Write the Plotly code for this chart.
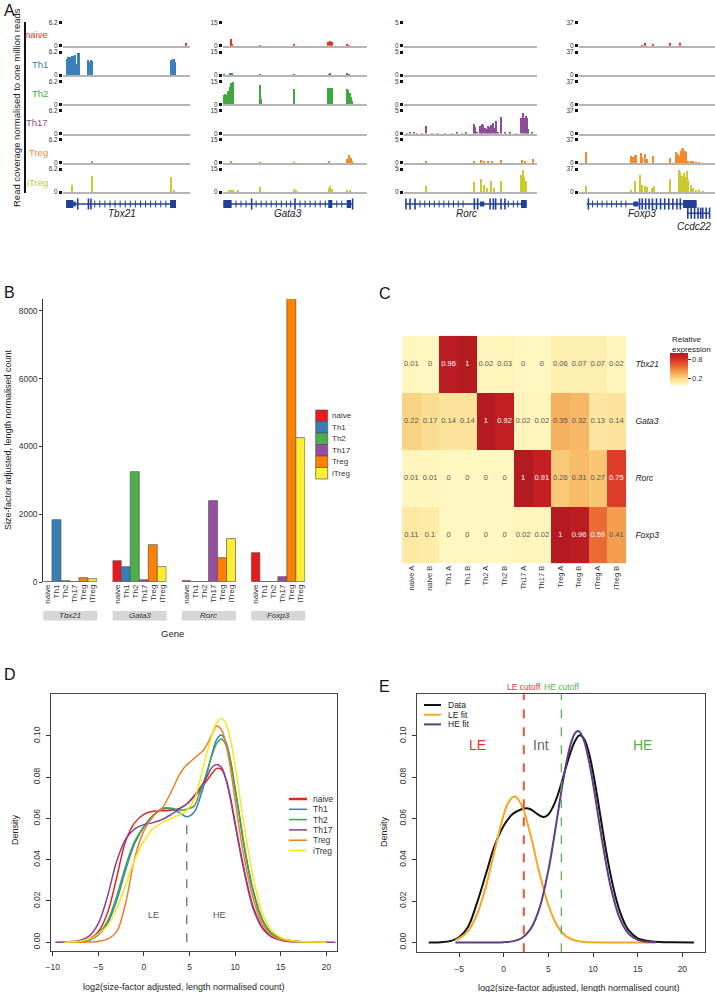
# -*- coding: utf-8 -*-
import plotly.graph_objects as go

W, H = 715, 992
FONT = "Liberation Sans, Arial, sans-serif"

cell_types = ["naive", "Th1", "Th2", "Th17", "Treg", "iTreg"]
genes = ["Tbx21", "Gata3", "Rorc", "Foxp3"]

# ---------------- panel A: coverage tracks ----------------
track_colors = ["#E5332A", "#3A80BC", "#3EA83E", "#8E4B9A", "#F08A2A", "#CACA2E"]
track_max = [6.2, 15, 5, 37]

# (position along locus 0-100, coverage per million reads)
cov_tbx21 = {
    "naive": [(96.6, 0.8)],
    "Th1": [(3.2, 4.3), (4.4, 4.8), (5.6, 4.9), (6.8, 5.0), (8.0, 5.2), (9.2, 5.3),
            (10.4, 3.0), (11.6, 5.9), (12.8, 5.8), (19.5, 4.0), (20.7, 3.6), (22.0, 4.1),
            (23.2, 3.9), (85.2, 4.1), (86.4, 4.3), (87.6, 4.2), (88.6, 3.6)],
    "Th2": [],
    "Th17": [],
    "Treg": [(23.2, 0.3)],
    "iTreg": [(7.3, 2.0), (23.2, 4.2), (85.2, 4.0), (87.6, 0.6)],
}
cov_gata3 = {
    "naive": [(5.6, 4.8), (6.6, 1.5), (25.7, 0.5), (49.8, 1.5), (73.1, 2.3), (74.3, 3.0),
              (75.5, 2.6), (86.3, 0.8), (87.7, 0.6)],
    "Th1": [(1.0, 0.3), (5.0, 0.8), (6.2, 0.9), (25.7, 0.3), (49.8, 0.5), (73.5, 0.6),
            (74.8, 0.8), (86.3, 0.7), (87.5, 0.6)],
    "Th2": [(0.8, 6.0), (1.8, 6.4), (2.8, 6.0), (3.8, 8.5), (4.8, 11.0), (5.8, 13.5),
            (6.8, 14.6), (25.7, 12.3), (26.6, 3.0), (49.8, 10.1), (73.1, 10.4), (74.1, 10.5),
            (75.1, 10.5), (76.0, 10.3), (86.0, 9.6), (87.0, 9.0), (88.0, 7.5), (89.0, 4.5),
            (90.0, 2.0)],
    "Th17": [],
    "Treg": [(5.6, 1.0), (25.7, 0.3), (49.8, 0.3), (74.0, 1.5), (86.0, 2.5), (87.5, 5.5),
             (88.8, 3.0), (90.0, 1.0)],
    "iTreg": [(4.5, 1.5), (5.6, 1.2), (7.0, 1.0), (10.6, 1.3), (25.7, 3.2), (49.8, 1.8),
              (50.8, 1.0), (73.5, 2.5), (74.5, 4.2), (75.5, 2.0), (86.5, 0.8), (88.0, 0.8)],
}
cov_rorc = {
    "naive": [],
    "Th1": [],
    "Th2": [],
    "Th17": [(2, 0.2), (5, 0.25), (8, 0.3), (10, 0.2), (14, 0.15), (17, 1.7), (21, 0.2),
             (26, 0.15), (31, 0.2), (36, 0.15), (40, 0.25), (44, 0.2), (47, 0.3), (52.6, 2.2),
             (53.8, 1.5), (54.8, 0.5), (57.5, 1.8), (58.6, 2.2), (59.7, 2.0), (61, 1.2),
             (62.5, 1.0), (63.6, 1.7), (64.7, 1.5), (65.8, 2.0), (67, 2.4), (68.2, 1.3),
             (69.5, 2.9), (71, 0.5), (73.4, 3.6), (76, 0.3), (80, 0.3), (84, 0.2), (88.2, 3.4),
             (89.3, 4.6), (90.4, 3.5), (91.5, 4.0), (92.6, 3.4), (93.7, 1.0), (96, 0.3)],
    "Treg": [(17, 0.4), (53, 0.4), (58, 0.6), (60, 0.5), (63, 0.4), (66, 0.4), (73.4, 0.6),
             (88.5, 0.6), (91, 0.3), (97, 0.9)],
    "iTreg": [(17, 1.2), (52.6, 2.1), (58, 2.8), (60, 1.6), (62.8, 0.9), (65.3, 2.5),
              (67.8, 0.9), (73.4, 2.3), (88.3, 3.6), (89.5, 4.7), (90.6, 3.3), (91.8, 2.4)],
}
cov_foxp3 = {
    "naive": [(46.6, 0.6), (48.5, 4.8), (54.6, 3.6), (67, 5.3), (74.3, 4.5)],
    "Th1": [],
    "Th2": [],
    "Th17": [],
    "Treg": [(5.6, 18), (38, 12), (39.5, 9), (41, 12.5), (42.4, 13.5), (45.4, 15.3), (46.6, 10),
             (48.5, 15), (49.8, 7), (54.6, 11), (67, 8), (71.1, 17), (72.8, 14), (73.8, 12),
             (74.8, 19.5), (75.8, 23), (76.8, 24.5), (77.8, 20), (78.8, 18.5), (80, 4),
             (82.8, 2), (84.3, 2), (86, 1.5), (88, 1)],
    "iTreg": [(5.6, 9), (38, 3.5), (41, 17), (44.9, 26.7), (46.6, 12), (48.5, 9), (49.8, 8),
              (54, 7), (55.2, 9.5), (67, 21), (73.5, 35), (74.5, 32), (75.5, 25), (76.5, 22),
              (77.6, 30), (78.6, 24), (79.6, 34), (80.6, 20), (82.5, 11), (84, 6), (86.5, 4),
              (88.5, 2), (91, 1)],
}
coverage = {"Tbx21": cov_tbx21, "Gata3": cov_gata3, "Rorc": cov_rorc, "Foxp3": cov_foxp3}

# gene models: span, coding blocks, thin exons, intron chevrons
gene_models = {
    "Tbx21": dict(span=(2.4, 89.0), blocks=[(2.4, 8.1), (84.3, 89.0)], utr=[(8.1, 10.0)],
                  marks=[11.6, 20.0, 22.0],
                  chevrons=[25, 29, 33, 37, 41, 45, 49, 53, 57, 61, 65, 69, 73, 77, 81]),
    "Gata3": dict(span=(0.2, 90.0), blocks=[(0.2, 6.0), (73.1, 75.9), (85.9, 88.9)], utr=[],
                  marks=[19.9, 50.0, 90.0],
                  chevrons=[9, 12.5, 16, 23, 26.5, 30, 33.5, 37, 40.5, 44, 47, 53.5, 57, 60.5,
                            64, 67.5, 71, 79, 82.5]),
    "Rorc": dict(span=(0.75, 92.3), blocks=[(88.0, 92.3)], utr=[(57.1, 60.4)],
                 marks=[1.5, 4.5, 8.3, 52.9, 55.4, 64.7, 67.2, 68.9, 72.9, 75.9],
                 chevrons=[12, 15.6, 19.2, 22.8, 26.4, 30, 33.6, 37.2, 40.8, 44.4, 78.4, 82.2,
                           85.5]),
    "Foxp3": dict(span=(5.6, 86.5), blocks=[(76.5, 86.5)], utr=[(40.0, 43.5)],
                  marks=[6.9, 44.5, 46.5, 49, 51.5, 54, 57, 60, 63, 66, 69, 72, 74.5],
                  chevrons=[10, 13.5, 17, 20.5, 24, 27.5, 31, 34.5]),
}
ccdc22_model = dict(span=(79.2, 96.3), marks=[80, 82.5, 85, 87.5, 89.5, 91, 93.5, 96.0])

# ---------------- panel B: bar chart ----------------
bar_tbx21 = [10, 1830, 30, 10, 118, 80]
bar_gata3 = [630, 452, 3238, 60, 1100, 434]
bar_rorc = [20, 5, 5, 2382, 699, 1260]
bar_foxp3 = [856, 5, 10, 138, 8345, 4251]
bar_values = [bar_tbx21, bar_gata3, bar_rorc, bar_foxp3]
bar_colors = ["#E41A1C", "#377EB8", "#4DAF4A", "#984EA3", "#FF7F00", "#FFED33"]

# ---------------- panel C: heatmap ----------------
heat_cols = ["naive A", "naive B", "Th1 A", "Th1 B", "Th2 A", "Th2 B", "Th17 A", "Th17 B",
             "Treg A", "Treg B", "iTreg A", "iTreg B"]
heat_rows = ["Tbx21", "Gata3", "Rorc", "Foxp3"]
heat_vals = [
    [0.01, 0, 0.96, 1, 0.02, 0.03, 0, 0, 0.06, 0.07, 0.07, 0.02],
    [0.22, 0.17, 0.14, 0.14, 1, 0.92, 0.02, 0.02, 0.35, 0.32, 0.13, 0.14],
    [0.01, 0.01, 0, 0, 0, 0, 1, 0.91, 0.26, 0.31, 0.27, 0.75],
    [0.11, 0.1, 0, 0, 0, 0, 0.02, 0.02, 1, 0.96, 0.59, 0.41],
]

# ---------------- panel D: densities per cell type ----------------
d_x = [-9.7, -8.7, -8, -7, -6, -5, -4, -3, -2, -1, 0, 1, 2, 3, 4, 4.7, 5.5, 6, 6.5, 7, 7.5,
       8, 8.5, 9, 9.5, 10, 10.5, 11, 11.5, 12, 13, 14, 15, 16, 17, 18, 20, 21]
d_naive = [None, 0, 0.0001, 0.0003, 0.0015, 0.005, 0.014, 0.031, 0.049, 0.058, 0.062, 0.0635,
           0.0637, 0.064, 0.065, 0.067, 0.0705, 0.073, 0.076, 0.079, 0.082, 0.0843, 0.0838,
           0.079, 0.070, 0.058, 0.046, 0.035, 0.025, 0.017, 0.0072, 0.0028, 0.0011, 0.0004,
           0.0002, 0.0001, 0, None]
d_th1 = [None, 0, 0.0001, 0.0002, 0.001, 0.0035, 0.009, 0.020, 0.035, 0.048, 0.056, 0.0615,
         0.0645, 0.0645, 0.0625, 0.0608, 0.063, 0.068, 0.075, 0.083, 0.092, 0.0985, 0.1005,
         0.097, 0.088, 0.075, 0.061, 0.047, 0.035, 0.025, 0.011, 0.0045, 0.0018, 0.0008,
         0.0003, 0.0001, 0, None]
d_th2 = [None, 0, 0.0001, 0.0002, 0.001, 0.004, 0.010, 0.022, 0.037, 0.049, 0.056, 0.061,
         0.065, 0.065, 0.064, 0.0645, 0.066, 0.071, 0.077, 0.084, 0.091, 0.0965, 0.0985,
         0.0955, 0.087, 0.074, 0.060, 0.046, 0.034, 0.024, 0.0105, 0.0043, 0.0018, 0.0008,
         0.0003, 0.0001, 0, None]
d_th17 = [0, 0.0001, 0.0003, 0.001, 0.003, 0.009, 0.022, 0.039, 0.050, 0.055, 0.057, 0.058,
          0.0595, 0.062, 0.065, 0.067, 0.071, 0.074, 0.077, 0.081, 0.085, 0.0862, 0.0848,
          0.079, 0.069, 0.057, 0.045, 0.034, 0.024, 0.016, 0.0066, 0.0025, 0.001, 0.0004,
          0.0002, 0.0001, 0, 0]
d_treg = [None, 0, 0, 0, 0.0001, 0.0005, 0.0015, 0.005, 0.019, 0.041, 0.054, 0.061, 0.065,
          0.073, 0.082, 0.086, 0.089, 0.091, 0.093, 0.0965, 0.101, 0.1048, 0.103, 0.096,
          0.084, 0.069, 0.054, 0.041, 0.030, 0.021, 0.0088, 0.0034, 0.0013, 0.0005, 0.0002,
          0.0001, 0, None]
d_itreg = [None, 0, 0.0002, 0.0005, 0.0015, 0.004, 0.008, 0.016, 0.028, 0.040, 0.049, 0.055,
           0.058, 0.060, 0.062, 0.064, 0.069, 0.076, 0.085, 0.093, 0.101, 0.1065, 0.1086,
           0.106, 0.098, 0.086, 0.071, 0.056, 0.043, 0.031, 0.014, 0.0058, 0.0023, 0.0009,
           0.0004, 0.0002, 0, None]
d_curves = [d_naive, d_th1, d_th2, d_th17, d_treg, d_itreg]
d_colors = ["#E3261F", "#3580BB", "#3FA54A", "#8B3F95", "#F07E22", "#FFE414"]
d_cutoff = 4.7

# ---------------- panel E: mixture fit ----------------
e_data_x = [-8.4, -7, -6, -5, -4, -3, -2, -1, 0, 1, 2, 2.5, 3, 4, 4.5, 5, 5.5, 6, 6.5, 7,
            7.5, 8, 8.5, 9, 9.5, 10, 10.5, 11, 11.5, 12, 12.5, 13, 13.5, 14, 15, 16, 17, 18,
            19, 21.3]
e_data_y = [0, 0.0001, 0.0006, 0.0025, 0.0075, 0.019, 0.033, 0.047, 0.0565, 0.0622, 0.0645,
            0.065, 0.0645, 0.0615, 0.0607, 0.062, 0.0655, 0.0708, 0.0777, 0.0853, 0.0923,
            0.0977, 0.1003, 0.0985, 0.0925, 0.0825, 0.070, 0.0565, 0.0435, 0.032, 0.0225,
            0.015, 0.0095, 0.0058, 0.002, 0.0008, 0.0003, 0.0001, 0.00005, 0]
e_le_x = [-5.4, -5, -4, -3, -2, -1, 0, 0.5, 1.2, 2, 3, 4, 5, 6, 7, 8, 9, 10, 12, 17]
e_le_y = [0.0012, 0.0019, 0.0055, 0.0134, 0.0269, 0.0448, 0.0618, 0.0676, 0.0708, 0.0666,
          0.0521, 0.0337, 0.0181, 0.0080, 0.0029, 0.0009, 0.0002, 0.00005, 0, 0]
e_he_x = [-5.4, 0, 1, 2, 3, 4, 5, 5.5, 6, 6.5, 7, 7.5, 8, 8.3, 8.5, 9, 9.5, 10, 10.5, 11, 12,
          13, 14, 15, 16, 17]
e_he_y = [0, 0.0001, 0.0005, 0.0020, 0.0064, 0.0165, 0.0349, 0.0472, 0.0607, 0.0744, 0.0867,
          0.0961, 0.1015, 0.1024, 0.1020, 0.0976, 0.0888, 0.0770, 0.0635, 0.0498, 0.0265,
          0.0115, 0.0041, 0.0012, 0.0003, 0.0001]
le_cutoff, he_cutoff = 2.25, 6.45


# ---------------- helpers ----------------
layout = {}
count = {"x": 0, "y": 0}
shapes = []
annotations = []
BLANK = dict(showgrid=False, zeroline=False, showline=False, ticks="", showticklabels=False)


def axis(kind, **opts):
    count[kind] += 1
    n = count[kind]
    suffix = "" if n == 1 else str(n)
    opts.setdefault("automargin", False)
    layout[f"{kind}axis{suffix}"] = opts
    return f"{kind}{suffix}"


def link(xa, ya):
    layout["xaxis" + xa[1:]]["anchor"] = ya
    layout["yaxis" + ya[1:]]["anchor"] = xa


def dx(a, b):
    return [a / W, b / W]


def dy(top, bottom):
    return [1 - bottom / H, 1 - top / H]


def text(t, x, y, size, color="#222", xanchor="center", angle=0, xref="paper", yref="paper",
         yanchor="middle"):
    if xref == "paper":
        x = x / W
    if yref == "paper":
        y = 1 - y / H
    annotations.append(dict(text=t, x=x, y=y, xref=xref, yref=yref, showarrow=False,
                            xanchor=xanchor, yanchor=yanchor, textangle=angle, align="left",
                            font=dict(size=size, color=color, family=FONT)))


fig = go.Figure()

# ---------------- panel A ----------------
track_px = {"Tbx21": (63, 190), "Gata3": (223, 367), "Rorc": (404, 537), "Foxp3": (579, 715)}
for g, gene in enumerate(genes):
    x0p, x1p = track_px[gene]
    for i, ct in enumerate(cell_types):
        top = 22.7 + 29.3 * i
        xa = axis("x", domain=dx(x0p, x1p), range=[0, 100], showline=True,
                  linecolor="#b4b4b4", linewidth=2.2, showgrid=False, zeroline=False,
                  ticks="", showticklabels=False)
        ya = axis("y", domain=dy(top, top + 23), range=[0, track_max[g]],
                  tickvals=[0, track_max[g]], ticktext=["0", f"{track_max[g]:g}"],
                  ticks="outside", ticklen=3, tickwidth=3, tickcolor="#111",
                  tickfont=dict(size=6.5, color="#333"), showgrid=False, zeroline=False,
                  showline=False)
        link(xa, ya)
        pts = coverage[gene][ct]
        fig.add_trace(go.Bar(x=[p[0] for p in pts], y=[p[1] for p in pts], width=1.0,
                             marker=dict(color=track_colors[i], line=dict(width=0)),
                             xaxis=xa, yaxis=ya, hoverinfo="skip"))

    # gene model
    xa = axis("x", domain=dx(x0p, x1p), range=[0, 100], **BLANK)
    ya = axis("y", domain=dy(196, 220), range=[-2, 1], **BLANK)
    link(xa, ya)
    models = [(gene_models[gene], 0)]
    if gene == "Foxp3":
        models.append((ccdc22_model, -1.15))
    for m, row in models:
        fig.add_trace(go.Scatter(x=list(m["span"]), y=[row, row], mode="lines",
                                 line=dict(color="#213F99", width=1.4),
                                 xaxis=xa, yaxis=ya, hoverinfo="skip"))
        for key, lw in (("blocks", 8), ("utr", 5)):
            segs_x, segs_y = [], []
            for s, e in m.get(key, []):
                segs_x += [s, e, None]
                segs_y += [row, row, None]
            if segs_x:
                fig.add_trace(go.Scatter(x=segs_x, y=segs_y, mode="lines",
                                         line=dict(color="#213F99", width=lw),
                                         xaxis=xa, yaxis=ya, hoverinfo="skip"))
        for key, size, lw in (("marks", 8, 1.6), ("chevrons", 5, 1.0)):
            xs = m.get(key, [])
            if xs:
                fig.add_trace(go.Scatter(x=xs, y=[row] * len(xs), mode="markers",
                                         marker=dict(symbol="line-ns", size=size,
                                                     line=dict(color="#213F99", width=lw)),
                                         xaxis=xa, yaxis=ya, hoverinfo="skip"))

label_y = [34.7, 64.3, 94, 122.7, 152.7, 182]
for i, ct in enumerate(cell_types):
    text(ct, 50, label_y[i], 9.5, track_colors[i], xanchor="right")
gene_label_pos = [(121.7, 214), (288, 214), (466.7, 214), (641.7, 214)]
for gene, (gx, gy) in zip(genes, gene_label_pos):
    text(f"<i>{gene}</i>", gx, gy, 10, "#222")
text("<i>Ccdc22</i>", 713, 226.5, 10, "#222", xanchor="right")
text("Read coverage normalised to one million reads", 16, 108, 9.5, "#222", angle=-90)
shapes.append(dict(type="line", xref="paper", yref="paper", x0=25 / W, x1=25 / W,
                   y0=1 - 193 / H, y1=1 - 22 / H, line=dict(color="#111", width=2)))

# ---------------- panel B ----------------
b_top, b_bottom = 299, 582
yb = axis("y", domain=dy(b_top, b_bottom), range=[0, 8350],
          tickvals=[0, 2000, 4000, 6000, 8000], ticks="outside", ticklen=3,
          tickcolor="#333", tickfont=dict(size=8.5, color="#333"), showline=True,
          linecolor="#333", linewidth=1, showgrid=False, zeroline=False, anchor="free",
          position=42.3 / W)
for g, gene in enumerate(genes):
    left = 43.3 + 69.3 * g
    xb = axis("x", domain=dx(left, left + 54), range=[-0.5, 5.5], type="category",
              tickmode="array", tickvals=cell_types, ticktext=cell_types,
              tickangle=-90, tickfont=dict(size=8, color="#333"), ticks="",
              showgrid=False, zeroline=False, showline=False, anchor=yb)
    fig.add_trace(go.Bar(x=cell_types, y=bar_values[g], width=1.0,
                         marker=dict(color=bar_colors, line=dict(color="#555555", width=0.7)),
                         xaxis=xb, yaxis=yb, hoverinfo="skip"))
    shapes.append(dict(type="rect", xref=f"{xb} domain", yref="paper", x0=0, x1=1,
                       y0=1 - 620.5 / H, y1=1 - 611 / H, fillcolor="#d6d6d6",
                       line=dict(width=0)))
    text(f"<i>{gene}</i>", 0.5, 615.8, 8, "#333", xref=f"{xb} domain")
text("Gene", 172, 633, 9.5, "#222")
text("Size-factor adjusted, length normalised count", 8, 440, 9, "#222", angle=-90)
for i, ct in enumerate(cell_types):
    y0 = 410 + 11.5 * i
    shapes.append(dict(type="rect", xref="paper", yref="paper", x0=315.7 / W, x1=327.7 / W,
                       y0=1 - (y0 + 11.5) / H, y1=1 - y0 / H, fillcolor=bar_colors[i],
                       line=dict(color="#555555", width=0.7)))
    text(ct, 329.5, y0 + 5.9, 8, "#333", xanchor="left")

# ---------------- panel C ----------------
xc = axis("x", domain=dx(400, 627.7), type="category", tickangle=-90,
          tickmode="array", tickvals=heat_cols, ticktext=heat_cols,
          tickfont=dict(size=7.5, color="#333"), ticks="", showgrid=False, zeroline=False,
          showline=False)
yc = axis("y", domain=dy(335.7, 563.3), type="category", autorange="reversed", side="right",
          tickmode="array", tickvals=heat_rows, ticktext=[f"<i>{r}</i>" for r in heat_rows],
          tickfont=dict(size=8.5, color="#222"), ticks="outside", ticklen=5,
          tickcolor="rgba(0,0,0,0)", showgrid=False, zeroline=False, showline=False)
link(xc, yc)
heat_scale = [[0, "#FFF6C0"], [0.1, "#FDEBA6"], [0.2, "#FAD78A"], [0.3, "#F7BE6C"],
              [0.4, "#F3A052"], [0.5, "#EE8440"], [0.6, "#E96834"], [0.7, "#E24A2C"],
              [0.8, "#D63127"], [0.9, "#C62024"], [1, "#B31B21"]]
fig.add_trace(go.Heatmap(
    z=heat_vals, x=heat_cols, y=heat_rows, zmin=0, zmax=1, colorscale=heat_scale,
    xaxis=xc, yaxis=yc, hoverinfo="skip",
    colorbar=dict(x=670 / W, xanchor="left", y=1 - 369 / H, yanchor="middle",
                  lenmode="pixels", len=32, thickness=18, xpad=0, ypad=0,
                  outlinewidth=0, tickvals=[0.2, 0.8], ticks="outside", ticklen=3,
                  tickcolor="#333", tickfont=dict(size=7.5, color="#333"))))
text("Relative<br>expression", 670, 344, 8, "#222", xanchor="left")
cx, cy, ct_, cc = [], [], [], []
for r, row in enumerate(heat_vals):
    for c, v in enumerate(row):
        cx.append(heat_cols[c])
        cy.append(heat_rows[r])
        ct_.append(f"{v:g}")
        cc.append("white" if v > 0.5 else "#555555")
fig.add_trace(go.Scatter(x=cx, y=cy, text=ct_, mode="text",
                         textfont=dict(size=7.5, color=cc, family=FONT),
                         xaxis=xc, yaxis=yc, hoverinfo="skip"))


# ---------------- panels D and E ----------------
def density_axes(xdom, ydom, xrange, yrange, xticks):
    xa = axis("x", domain=xdom, range=xrange, tickvals=xticks, ticks="outside", ticklen=4,
              tickcolor="#333", tickfont=dict(size=8.5, color="#333"), ticklabelstandoff=4,
              showline=True, mirror=True, linecolor="#444", linewidth=1, showgrid=False,
              zeroline=False)
    ya = axis("y", domain=ydom, range=yrange, tickvals=[0, 0.02, 0.04, 0.06, 0.08, 0.10],
              ticktext=["0.00", "0.02", "0.04", "0.06", "0.08", "0.10"], tickangle=-90,
              ticks="outside", ticklen=4, tickcolor="#333", ticklabelstandoff=3,
              tickfont=dict(size=8.5, color="#333"), showline=True, mirror=True,
              linecolor="#444", linewidth=1, showgrid=False, zeroline=False)
    link(xa, ya)
    return xa, ya


xd, yd = density_axes(dx(51, 337.3), dy(694.3, 950.7), [-10.18, 21.2], [-0.0041, 0.1202],
                      [-10, -5, 0, 5, 10, 15, 20])
for i, ct in enumerate(cell_types):
    fig.add_trace(go.Scatter(x=d_x, y=d_curves[i], mode="lines", line_shape="spline",
                             line=dict(color=d_colors[i], width=1.5), xaxis=xd, yaxis=yd,
                             hoverinfo="skip"))
th1_at_cut = d_th1[d_x.index(d_cutoff)]
shapes.append(dict(type="line", xref=xd, yref=yd, x0=d_cutoff, x1=d_cutoff, y0=0,
                   y1=th1_at_cut, line=dict(color="#6b6b7b", width=1.3, dash="dash")))
text("LE", 1.0, 0.0131, 9, "#555", xref=xd, yref=yd)
text("HE", 8.3, 0.0131, 9, "#555", xref=xd, yref=yd)
for i, ct in enumerate(cell_types):
    ly = 799 + 10.3 * i
    shapes.append(dict(type="line", xref="paper", yref="paper", x0=289 / W, x1=307 / W,
                       y0=1 - ly / H, y1=1 - ly / H,
                       line=dict(color=d_colors[i], width=2.5 if i == 0 else 1.5)))
    text(ct, 311, ly, 8.5, "#333", xanchor="left")
text("Density", 15, 830, 9, "#222", angle=-90)
text("log2(size-factor adjusted, length normalised count)", 184, 986.5, 9, "#222")

xe, ye = density_axes(dx(417.3, 704.7), dy(694.3, 952.3), [-9.67, 22.5], [-0.0048, 0.1202],
                      [-5, 0, 5, 10, 15, 20])
e_series = [("Data", e_data_x, e_data_y, "#111111"),
            ("LE fit", e_le_x, e_le_y, "#F5A623"),
            ("HE fit", e_he_x, e_he_y, "#5E3D85")]
for name, xs, ys, col in e_series:
    fig.add_trace(go.Scatter(x=xs, y=ys, mode="lines", line_shape="spline",
                             line=dict(color=col, width=2), xaxis=xe, yaxis=ye,
                             hoverinfo="skip"))
shapes.append(dict(type="line", xref=xe, yref=f"{ye} domain", x0=le_cutoff, x1=le_cutoff,
                   y0=0, y1=1, line=dict(color="#E3553A", width=2, dash="dash")))
shapes.append(dict(type="line", xref=xe, yref=f"{ye} domain", x0=he_cutoff, x1=he_cutoff,
                   y0=0, y1=1, line=dict(color="#4DAF4A", width=1.2, dash="dash")))
text("LE cutoff", le_cutoff, 1.0, 8.5, "#E3342A", xref=xe, yref=f"{ye} domain",
     yanchor="bottom")
text("HE cutoff", he_cutoff, 1.0, 8.5, "#58B047", xref=xe, yref=f"{ye} domain",
     yanchor="bottom")
text("LE", -2.95, 0.0958, 14, "#E3342A", xref=xe, yref=ye)
text("Int", 4.18, 0.0958, 14, "#666666", xref=xe, yref=ye)
text("HE", 15.5, 0.0958, 14, "#58B047", xref=xe, yref=ye)
for i, (name, xs, ys, col) in enumerate(e_series):
    ly = 705 + 9.7 * i
    shapes.append(dict(type="line", xref="paper", yref="paper", x0=424 / W, x1=441 / W,
                       y0=1 - ly / H, y1=1 - ly / H, line=dict(color=col, width=2)))
    text(name, 446, ly, 8.5, "#222", xanchor="left")
text("Density", 383.3, 831.7, 9, "#222", angle=-90)
text("log2(size-factor adjusted, length normalised count)", 578.7, 987.5, 9, "#222")

# panel letters
for letter, lx, ly in (("A", 2, 10), ("B", 2, 292.5), ("C", 377, 293), ("D", 2, 674),
                       ("E", 377, 686)):
    text(letter, lx, ly, 16, "#111", xanchor="left")

fig.update_layout(
    template="none",
    width=W, height=H,
    margin=dict(l=0, r=0, t=0, b=0, autoexpand=False),
    paper_bgcolor="white", plot_bgcolor="white",
    font=dict(family=FONT, color="#222"),
    showlegend=False, bargap=0,
    shapes=shapes, annotations=annotations,
    **layout,
)

# the page body has a default 8px margin; remove it so the figure fills the window
fig.write_html("out.html", config={"displayModeBar": False},
               post_script="document.body.style.margin = '0px';")
